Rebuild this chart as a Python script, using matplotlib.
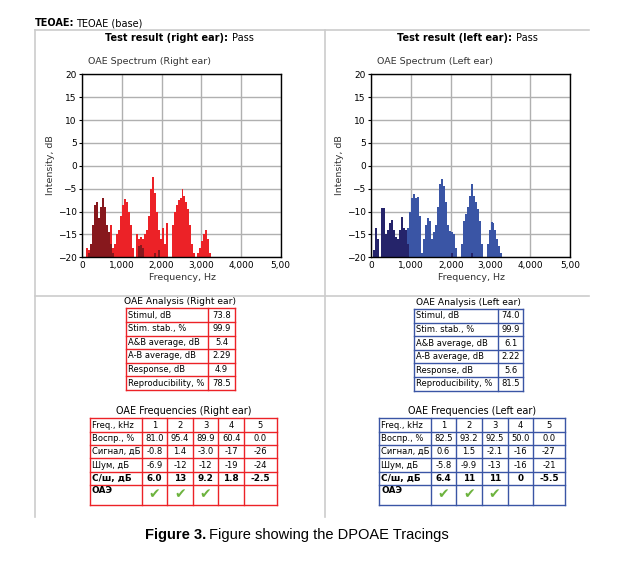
import matplotlib
matplotlib.use("Agg")
import matplotlib.pyplot as plt
import numpy as np

W, H = 636, 566

# spectrum bins (Hz), 50 Hz wide
freq = np.arange(0, 3250, 50)
freq_l = np.arange(0, 3300, 50)

right_resp = [-20, -20, -18, -18.5, -20, -20, -20, -20, -20, -20, -20, -20, -20,
              -16, -13, -18, -17, -15, -14, -11, -8.5, -7.2, -8, -10, -13, -18,
              -20, -15, -16, -15.5, -16, -15, -14, -11, -5, -2.5, -6, -10, -14,
              -16, -13.5, -17, -12.5, -20, -20, -13, -10, -8.5, -7.5, -7, -5,
              -6.5, -8, -9.5, -13, -17, -19, -20, -19, -18, -16.5, -15, -14,
              -16, -19]
right_noise = [-20, -20, -20, -19, -17, -13, -8.5, -8, -11.5, -9, -7, -9, -13,
               -14.5, -17, -19, -20, -20, -20, -20, -20, -20, -20, -20, -20, -20,
               -20, -20, -17.5, -17.3, -18, -20, -20, -20, -20, -20, -19, -20,
               -18.5, -20, -20, -20, -20, -20, -20, -20, -20, -20, -20, -20, -20,
               -20, -20, -20, -20, -20, -20, -20, -20, -20, -20, -20, -20, -20,
               -20]
left_resp = [-20, -20, -20, -20, -20, -20, -20, -20, -20, -20, -20, -20, -20,
             -20, -20, -20, -20, -14, -13.5, -10, -7, -6.2, -7, -6.8, -11, -19,
             -16, -13, -11.5, -12, -16, -14.5, -13, -9, -4, -2.8, -4.5, -8, -13,
             -14.3, -14.5, -15, -18, -20, -20, -17, -12, -10.5, -9, -6.5, -4,
             -6.5, -8, -9.5, -12, -17, -20, -20, -17, -14, -12.3, -12.5, -14,
             -16, -17.5, -19]
left_noise = [-20, -18.5, -13.5, -16, -20, -9.3, -9.3, -15, -14, -12.5, -11.8,
              -14, -15.5, -16, -14, -11.2, -13.5, -14, -17, -20, -20, -20, -20,
              -20, -20, -20, -20, -20, -20, -20, -20, -20, -20, -20, -20, -20,
              -20, -20, -20, -20, -19, -20, -20, -20, -20, -20, -20, -20, -20,
              -20, -19, -20, -20, -20, -20, -20, -20, -20, -20, -20, -20, -20,
              -20, -20, -20, -20]

x_ticks = [0, 1000, 2000, 3000, 4000, 5000]
x_tick_labels = ["0", "1,000", "2,000", "3,000", "4,000", "5,00"]
y_ticks = [-20, -15, -10, -5, 0, 5, 10, 15, 20]

analysis_labels = ["Stimul, dB", "Stim. stab., %", "A&B average, dB",
                   "A-B average, dB", "Response, dB", "Reproducibility, %"]
analysis_right = ["73.8", "99.9", "5.4", "2.29", "4.9", "78.5"]
analysis_left = ["74.0", "99.9", "6.1", "2.22", "5.6", "81.5"]

freq_head = ["Freq., kHz", "1", "2", "3", "4", "5"]
row_names = ["Воспр., %", "Сигнал, дБ", "Шум, дБ", "С/ш, дБ", "ОАЭ"]
right_rows = [["81.0", "95.4", "89.9", "60.4", "0.0"],
              ["-0.8", "1.4", "-3.0", "-17", "-26"],
              ["-6.9", "-12", "-12", "-19", "-24"],
              ["6.0", "13", "9.2", "1.8", "-2.5"]]
left_rows = [["82.5", "93.2", "92.5", "50.0", "0.0"],
             ["0.6", "1.5", "-2.1", "-16", "-27"],
             ["-5.8", "-9.9", "-13", "-16", "-21"],
             ["6.4", "11", "11", "0", "-5.5"]]
oae_pass = [True, True, True, False, False]

RED, DARKRED = "#ec2227", "#87181d"
BLUE, NAVY = "#3a55a5", "#25246a"
GREEN = "#6db33f"

fig = plt.figure(figsize=(W / 100, H / 100), dpi=100)
ov = fig.add_axes([0, 0, 1, 1])
ov.set_xlim(0, W)
ov.set_ylim(H, 0)
ov.axis("off")
renderer = fig.canvas.get_renderer()


def rect(l, t, r, b):
    return [l / W, 1 - b / H, (r - l) / W, (b - t) / H]


def two_part(x, y, first, second, size, family="DejaVu Sans", gap=3):
    # bold first part, normal second part right after it
    t = ov.text(x, y, first, fontsize=size, fontweight="bold", va="center", family=family)
    bb = t.get_window_extent(renderer)
    ov.text(x + bb.width + gap, y, second, fontsize=size, va="center", family=family)


# panel frame
gray = "#cccccc"
ov.plot([35, 589], [30, 30], color=gray, lw=1.2)
ov.plot([35, 589], [296, 296], color=gray, lw=1.2)
ov.plot([35, 35], [30, 517], color=gray, lw=1.2)
ov.plot([324.5, 324.5], [30, 517], color=gray, lw=1.2)

two_part(35, 23, "TEOAE:", "TEOAE (base)", 7, gap=2)
two_part(105, 38, "Test result (right ear):", "Pass", 7, gap=4)
two_part(397, 38, "Test result (left ear):", "Pass", 7, gap=4)


def spectrum(l, r, fr, resp, noise, c1, c2, title):
    ax = fig.add_axes(rect(l, 74.3, r, 257.3))
    resp = np.array(resp)
    noise = np.array(noise)
    ax.bar(fr, resp + 20, bottom=-20, width=50, align="edge", color=c1, lw=0, zorder=3)
    ax.bar(fr, noise + 20, bottom=-20, width=50, align="edge", color=c2, lw=0, zorder=4)
    ax.set_xlim(0, 5000)
    ax.set_ylim(-20, 20)
    ax.set_xticks(x_ticks, x_tick_labels)
    ax.set_yticks(y_ticks)
    ax.grid(True, color="#b0b0b0", lw=1)
    ax.set_axisbelow(True)
    ax.tick_params(labelsize=6.5, length=2.5, width=0.8, pad=1.5, colors="black")
    ax.tick_params(axis="x", length=0, pad=3)
    for s in ax.spines.values():
        s.set_linewidth(1)
        s.set_zorder(6)
    ov.text(l + 6, 62, title, fontsize=6.8, color="#333333", va="center")
    ov.text((l + r) / 2 + 1, 278, "Frequency, Hz", fontsize=6.8, color="#333333",
            ha="center", va="center")
    ov.text(l - 32, 165, "Intensity, dB", fontsize=6.8, color="#333333",
            ha="center", va="center", rotation=90)


spectrum(82.3, 280.7, freq, right_resp, right_noise, RED, DARKRED, "OAE Spectrum (Right ear)")
spectrum(371.3, 570, freq_l, left_resp, left_noise, BLUE, NAVY, "OAE Spectrum (Left ear)")


def analysis(l, m, r, top, bot, vals, col, title):
    ys = np.linspace(top, bot, len(vals) + 1)
    ov.text((l + r) / 2, top - 6.5, title, fontsize=6.6, ha="center", va="center")
    for y in ys:
        ov.plot([l, r], [y, y], color=col, lw=1)
    for x in (l, m, r):
        ov.plot([x, x], [top, bot], color=col, lw=1)
    for i, (lab, v) in enumerate(zip(analysis_labels, vals)):
        yc = (ys[i] + ys[i + 1]) / 2
        ov.text(l + 2, yc, lab, fontsize=6, va="center")
        ov.text((m + r) / 2, yc, v, fontsize=6, va="center", ha="center")


analysis(125.7, 208, 235, 308.3, 390, analysis_right, RED, "OAE Analysis (Right ear)")
analysis(414.3, 498.3, 523.3, 309, 390.7, analysis_left, BLUE, "OAE Analysis (Left ear)")


def freq_table(xs, rows, col, title):
    ys = [418.3, 431.7, 445, 458.3, 471.7, 485, 505]
    ov.text((xs[0] + xs[-1]) / 2, 411.5, title, fontsize=6.9, ha="center", va="center")
    for y in ys:
        ov.plot([xs[0], xs[-1]], [y, y], color=col, lw=1)
    for x in xs:
        ov.plot([x, x], [ys[0], ys[-1]], color=col, lw=1)
    yc = (ys[0] + ys[1]) / 2
    ov.text(xs[0] + 2, yc, freq_head[0], fontsize=6, va="center")
    for j, h in enumerate(freq_head[1:]):
        ov.text((xs[j + 1] + xs[j + 2]) / 2, yc, h, fontsize=6, va="center", ha="center")
    for i, name in enumerate(row_names[:4]):
        yc = (ys[i + 1] + ys[i + 2]) / 2
        bold = i == 3
        fw = "bold" if bold else "normal"
        fs = 6.4 if bold else 6
        ov.text(xs[0] + 2, yc, name, fontsize=fs, fontweight=fw, va="center")
        for j, v in enumerate(rows[i]):
            ov.text((xs[j + 1] + xs[j + 2]) / 2, yc, v, fontsize=fs, fontweight=fw,
                    va="center", ha="center")
    ov.text(xs[0] + 2, ys[5] + 5.5, row_names[4], fontsize=6.4, fontweight="bold", va="center")
    for j, ok in enumerate(oae_pass):
        if ok:
            ov.text((xs[j + 1] + xs[j + 2]) / 2, ys[5] + 9.5, "\u2714", fontsize=10,
                    color=GREEN, ha="center", va="center")


freq_table([90, 141.7, 167.3, 192.7, 218.3, 244, 276.7], right_rows, RED,
           "OAE Frequencies (Right ear)")
freq_table([379, 431, 456, 481.7, 507.7, 532.7, 565], left_rows, BLUE,
           "OAE Frequencies (Left ear)")

two_part(145, 535, "Figure 3.", "Figure showing the DPOAE Tracings", 10.5,
         family="Liberation Sans", gap=3)

fig.savefig("out.png", dpi=100)
